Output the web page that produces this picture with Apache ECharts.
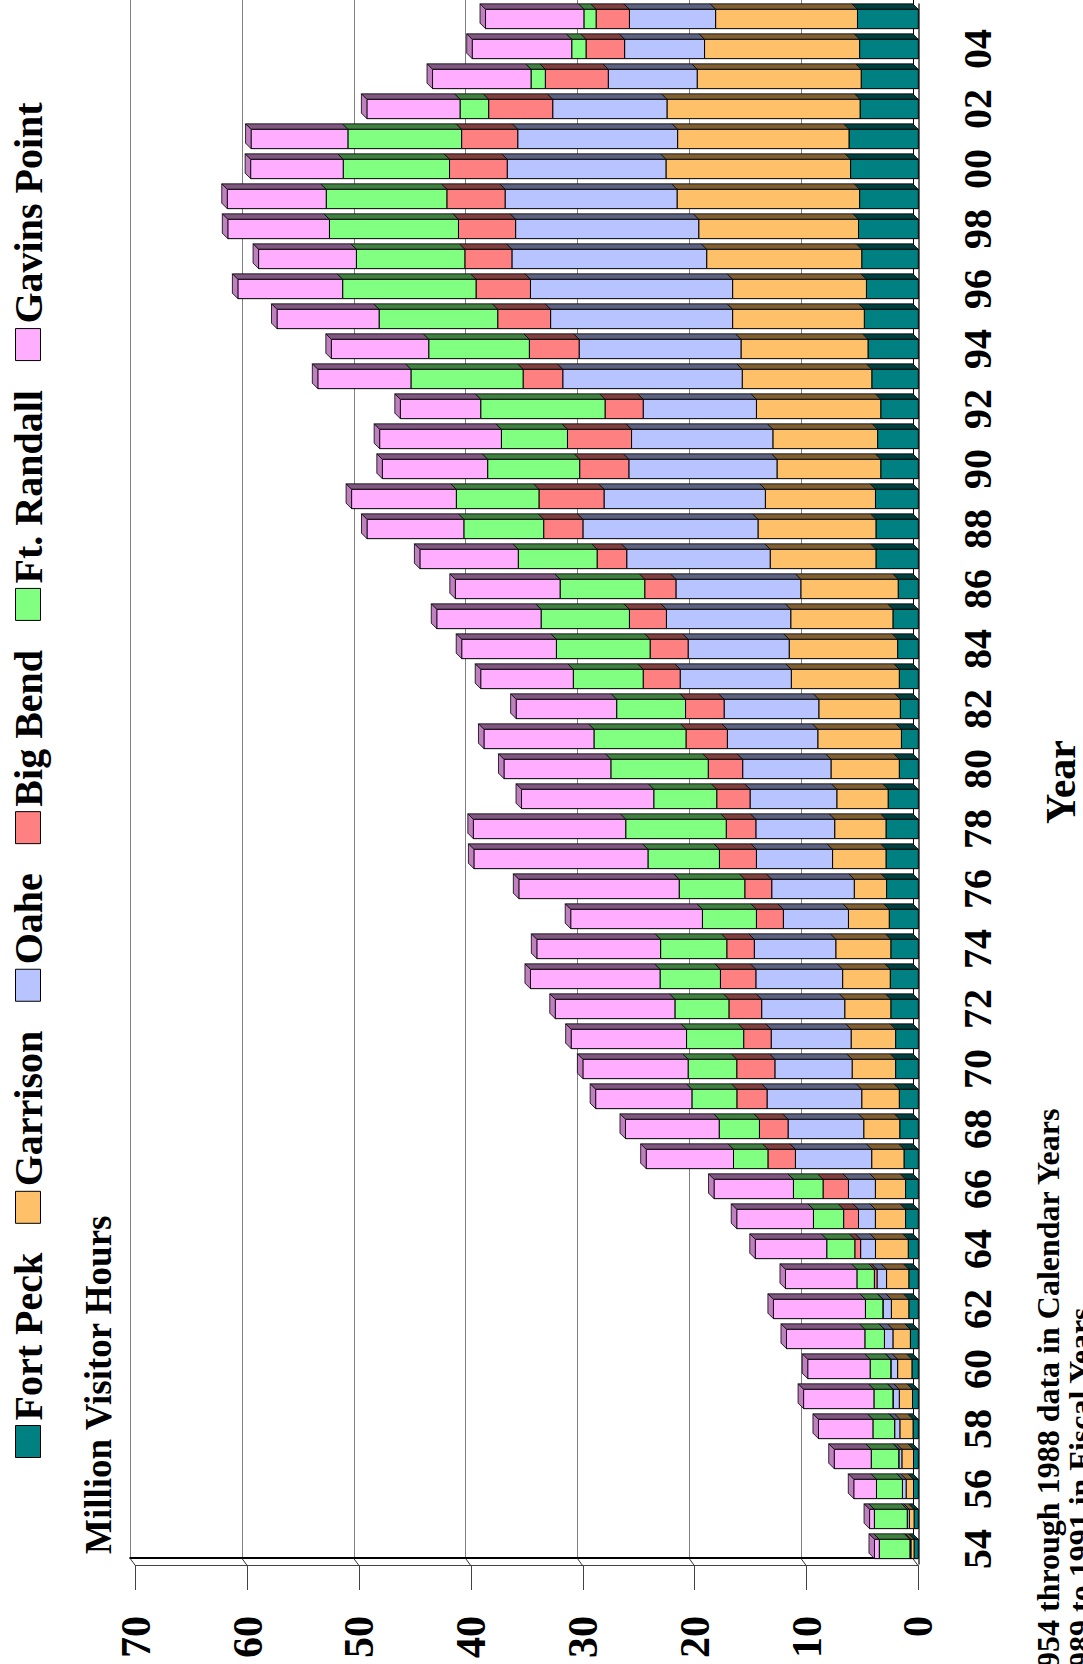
<!DOCTYPE html>
<html>
<head>
<meta charset="utf-8">
<script src="https://cdn.jsdelivr.net/npm/echarts@6/dist/echarts.min.js"></script>
<style>
  html, body { margin: 0; padding: 0; width: 1083px; height: 1664px; overflow: hidden; background: #fff; }
  /* The chart is laid out landscape and turned a quarter turn so it reads sideways */
  #chart { position: absolute; left: 0; top: 1664px; width: 1664px; height: 1083px;
           transform-origin: 0 0; transform: rotate(-90deg); }
</style>
</head>
<body>
<div id="chart"></div>
<script>
// Years 1954-2005 (two-digit labels)
const years = ['54','55','56','57','58','59','60','61','62','63','64','65','66','67','68','69',
               '70','71','72','73','74','75','76','77','78','79','80','81','82','83','84','85',
               '86','87','88','89','90','91','92','93','94','95','96','97','98','99','00','01',
               '02','03','04','05'];

// Million visitor hours by project
const fortPeck = [0.38,0.38,0.43,0.43,0.47,0.52,0.57,0.71,0.85,0.85,0.90,1.14,1.14,1.28,1.66,1.70,
                  2.03,2.03,2.46,2.51,2.46,2.60,2.84,2.89,2.89,2.70,1.70,1.51,1.61,1.70,1.85,2.27,
                  1.80,3.79,3.79,3.83,3.36,3.64,3.36,4.16,4.50,4.83,4.64,5.06,5.35,5.25,6.06,6.20,
                  5.21,5.11,5.25,5.44];
const garrison = [0.28,0.42,0.66,1.04,1.18,1.18,1.28,1.56,1.56,1.99,2.93,2.70,2.70,2.89,3.22,3.36,
                  3.89,3.98,4.12,4.26,4.92,3.65,2.89,4.78,4.59,4.59,6.11,7.48,7.29,9.66,9.70,9.14,
                  8.71,9.46,10.55,9.85,9.28,9.37,11.12,11.59,11.36,11.78,11.97,13.87,14.29,16.33,16.51,15.33,
                  17.27,14.67,13.87,12.69];
const oahe     = [0.09,0.19,0.33,0.28,0.47,0.57,0.61,0.76,0.76,0.85,1.33,1.51,2.41,6.82,6.77,8.47,
                  6.91,7.15,7.43,7.76,7.29,5.82,7.38,6.81,7.05,7.76,7.90,8.09,8.47,9.94,9.04,11.12,
                  11.17,12.83,15.66,14.43,13.25,12.64,10.13,16.05,14.48,16.28,18.08,17.42,16.38,15.38,14.20,14.30,
                  10.22,7.95,7.15,7.71];
const bigBend  = [0,0,0,0,0,0,0,0,0,0.24,0.52,1.33,2.27,2.46,2.56,2.70,
                  3.41,2.46,2.93,3.17,2.46,2.41,2.41,3.31,2.65,2.98,3.08,3.70,3.45,3.31,3.40,3.31,
                  2.79,2.65,3.51,5.82,4.40,5.73,3.41,3.55,4.45,4.73,4.87,4.21,5.11,5.21,5.16,5.02,
                  5.73,5.63,3.45,2.98];
const ftRandall = [2.74,2.94,2.32,2.46,1.94,1.70,1.85,1.75,1.56,1.56,2.51,2.70,2.65,3.08,3.60,4.02,
                   4.35,5.11,4.83,5.40,5.92,4.83,5.87,6.39,8.99,5.63,8.71,8.23,6.16,6.25,8.38,7.90,
                   7.57,7.05,7.14,7.39,8.23,5.91,11.12,10.03,9.00,10.61,11.93,9.70,11.54,10.79,9.51,10.17,
                   2.56,1.28,1.28,1.09];
const gavinsPoint = [0.43,0.43,2.03,3.31,4.87,6.29,5.58,7.01,8.23,6.39,6.39,6.86,7.10,7.81,8.38,8.61,
                     9.41,10.32,10.70,11.59,11.07,11.78,14.34,15.57,13.63,11.83,9.56,9.84,8.99,8.28,8.47,9.33,
                     9.37,8.80,8.66,9.37,9.42,10.89,7.19,8.33,8.71,9.13,9.37,8.75,9.09,8.85,8.28,8.66,
                     8.33,8.81,8.90,8.80];

// Value axis ticks (million visitor hours)
const valueTicks = [0, 10, 20, 30, 40, 50, 60, 70];

const FONT = '"Liberation Serif", "Times New Roman", serif';
const DEPTH = 5.5;       // oblique depth of the pseudo-3D bars, px
const BAR_FRACTION = 0.643;

const projects = [
  { name: 'Fort Peck',    values: fortPeck,    front: '#008080', side: '#004040', top: '#006060' },
  { name: 'Garrison',     values: garrison,    front: '#FFC06A', side: '#806033', top: '#C09050' },
  { name: 'Oahe',         values: oahe,        front: '#B8C4FF', side: '#5C6280', top: '#8A93C0' },
  { name: 'Big Bend',     values: bigBend,     front: '#FF8080', side: '#804040', top: '#C06060' },
  { name: 'Ft. Randall',  values: ftRandall,   front: '#80FF80', side: '#408040', top: '#60C060' },
  { name: 'Gavins Point', values: gavinsPoint, front: '#FFAEFF', side: '#805780', top: '#C080C0' }
];

// Draws one stacked segment as a front face plus its shaded side (and a lid on the last segment)
function makeRender(p, isTop) {
  return function (params, api) {
    const cat = api.value(0), lo = api.value(1), hi = api.value(2);
    const a = api.coord([cat, lo]);
    const b = api.coord([cat, hi]);
    const w = api.size([1, 0])[0] * BAR_FRACTION;
    const xl = a[0] - w / 2, xr = a[0] + w / 2;
    const yb = a[1], yt = b[1];
    const kids = [
      { type: 'polygon',
        shape: { points: [[xr, yb], [xr, yt], [xr + DEPTH, yt - DEPTH], [xr + DEPTH, yb - DEPTH]] },
        style: { fill: p.side, stroke: '#000', lineWidth: 0.8 } },
      { type: 'rect',
        shape: { x: xl, y: yt, width: w, height: yb - yt },
        style: { fill: p.front, stroke: '#000', lineWidth: 1 } }
    ];
    if (isTop) {
      kids.push({ type: 'polygon',
        shape: { points: [[xl, yt], [xr, yt], [xr + DEPTH, yt - DEPTH], [xl + DEPTH, yt - DEPTH]] },
        style: { fill: p.top, stroke: '#000', lineWidth: 0.8 } });
    }
    return { type: 'group', children: kids };
  };
}

// Short slanted strokes joining the front value axis to the back wall at each tick
function renderWallTick(params, api) {
  const y = api.coord([0, api.value(0)])[1];
  const x0 = params.coordSys.x - 2;
  return { type: 'line',
    shape: { x1: x0, y1: y, x2: x0 + DEPTH + 2, y2: y - DEPTH },
    style: { stroke: '#333', lineWidth: 1 } };
}

const running = years.map(() => 0);
const series = projects.map((p, k) => {
  const data = p.values.map((v, i) => {
    const lo = running[i];
    running[i] = lo + v;
    return [i, lo, lo + v];
  });
  return {
    type: 'custom',
    name: p.name,
    xAxisIndex: 0,
    yAxisIndex: 0,
    clip: false,
    encode: { x: 0, y: [1, 2] },
    itemStyle: { color: p.front },
    renderItem: makeRender(p, k === projects.length - 1),
    data: data
  };
});

series.push({
  type: 'custom',
  name: 'wall',
  silent: true,
  xAxisIndex: 0,
  yAxisIndex: 0,
  clip: false,
  encode: { y: 0 },
  renderItem: renderWallTick,
  data: valueTicks.map(v => [v])
});

const chart = echarts.init(document.getElementById('chart'), null,
  { renderer: 'svg', width: 1664, height: 1083 });

chart.setOption({
  animation: false,
  backgroundColor: '#fff',
  legend: {
    data: projects.map(p => p.name),
    left: 206, top: 8, padding: 0,
    itemWidth: 32, itemHeight: 25, itemGap: 29,
    icon: 'rect',
    itemStyle: { borderColor: '#000', borderWidth: 1 },
    textStyle: { fontFamily: FONT, fontWeight: 'bold', fontSize: 40, color: '#000' }
  },
  grid: [
    // front plane of the bars
    { left: 100, right: 4, top: 135.7, bottom: 164.7, containLabel: false, outerBoundsMode: 'none' },
    // back wall, pushed back by the depth offset
    { left: 100 + DEPTH, right: 4 - DEPTH - 2, top: 135.7 - DEPTH, bottom: 164.7 + DEPTH,
      containLabel: false, outerBoundsMode: 'none' }
  ],
  xAxis: [
    { type: 'category', gridIndex: 0, data: years, boundaryGap: true,
      axisLine: { lineStyle: { color: '#333', width: 1.5 } },
      axisTick: { length: 24, alignWithLabel: true, interval: 0, lineStyle: { color: '#333' } },
      axisLabel: { interval: 1, margin: 39, fontFamily: FONT, fontWeight: 'bold', fontSize: 40, color: '#000' },
      splitLine: { show: false } },
    { type: 'category', gridIndex: 1, data: years, boundaryGap: true,
      axisLine: { lineStyle: { color: '#000', width: 1 } },
      axisTick: { show: false }, axisLabel: { show: false }, splitLine: { show: false } }
  ],
  yAxis: [
    { type: 'value', gridIndex: 0, min: valueTicks[0], max: valueTicks[valueTicks.length - 1],
      interval: valueTicks[1] - valueTicks[0],
      offset: 2,
      axisLine: { show: true, lineStyle: { color: '#444', width: 1 } },
      axisTick: { show: true, length: 24, lineStyle: { color: '#444' } },
      axisLabel: { margin: 50, fontFamily: FONT, fontWeight: 'bold', fontSize: 42, color: '#000' },
      splitLine: { show: false } },
    { type: 'value', gridIndex: 1, min: valueTicks[0], max: valueTicks[valueTicks.length - 1],
      interval: valueTicks[1] - valueTicks[0],
      axisLine: { show: true, lineStyle: { color: '#000', width: 2 } },
      axisTick: { show: false }, axisLabel: { show: false },
      splitLine: { show: true, lineStyle: { color: '#808080', width: 1 } } }
  ],
  graphic: [
    { type: 'text', x: 110, y: 98,
      style: { text: 'Million Visitor Hours', font: 'bold 37px ' + FONT, fill: '#000',
               align: 'left', verticalAlign: 'middle' } },
    { type: 'text', x: 882, y: 1061,
      style: { text: 'Year', font: 'bold 42px ' + FONT, fill: '#000',
               align: 'center', verticalAlign: 'middle' } },
    { type: 'text', x: -20, y: 1048,
      style: { text: '1954 through 1988 data in Calendar Years', font: 'bold 32px ' + FONT, fill: '#000',
               align: 'left', verticalAlign: 'middle' } },
    { type: 'text', x: -20, y: 1080,
      style: { text: '1989 to 1991 in Fiscal Years', font: 'bold 32px ' + FONT, fill: '#000',
               align: 'left', verticalAlign: 'middle' } }
  ],
  series: series
});
</script>
</body>
</html>
